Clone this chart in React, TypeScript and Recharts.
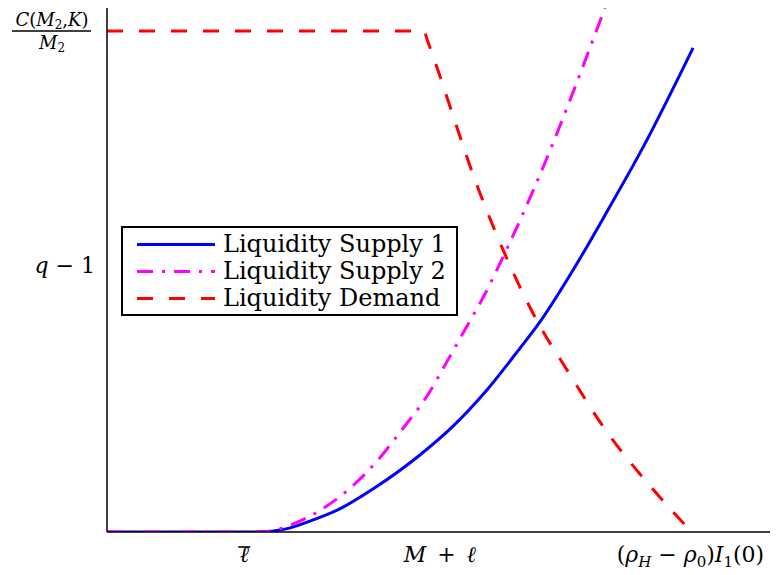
import React from "react";
import { LineChart, Line, XAxis, YAxis } from "recharts";

// liquidity supply 1 (solid blue)
const supply1X = [0, 2.16, 2.4, 2.7, 3.02, 3.51, 4.01, 4.72, 5.22, 5.73, 6.23, 6.53, 7.03, 7.54, 8.08, 8.84];
const supply1Y = [0, 0, 0.001, 0.006, 0.019, 0.044, 0.082, 0.147, 0.202, 0.271, 0.351, 0.401, 0.5, 0.611, 0.733, 0.924];

// liquidity supply 2 (dash-dot magenta)
const supply2X = [0, 2.34, 2.76, 3.17, 3.67, 4.07, 4.46, 4.83, 5.14, 5.43, 5.67, 6.03, 6.49, 7.51];
const supply2Y = [0, 0, 0.013, 0.038, 0.084, 0.135, 0.197, 0.26, 0.328, 0.393, 0.447, 0.54, 0.67, 1.0];

// liquidity demand (dashed red)
const demandX = [0, 4.78, 4.83, 5.63, 6.53, 6.91, 7.54, 8.19, 8.82];
const demandY = [0.956, 0.956, 0.939, 0.645, 0.393, 0.315, 0.191, 0.088, 0];

const xTicks = [2.07, 5.02, 8.8];
const yTicks = [0.5, 0.956];

const seriesNames = ["Liquidity Supply 1", "Liquidity Supply 2", "Liquidity Demand"];

const toPoints = (xs: number[], ys: number[]) => xs.map((x, i) => ({ x, y: ys[i] }));

const supply1 = toPoints(supply1X, supply1Y);
const supply2 = toPoints(supply2X, supply2Y);
const demand = toPoints(demandX, demandY);

const FONT = "DejaVu Serif";
const DASH_DOT = "16 9 3 9";
const DASHED = "16 16";

const SERIES = [
  { name: seriesNames[0], data: supply1, color: "#0000ff", dash: undefined },
  { name: seriesNames[1], data: supply2, color: "#ff00ff", dash: DASH_DOT },
  { name: seriesNames[2], data: demand, color: "#ff0000", dash: DASHED },
];

function XTick(props: any) {
  const { x, payload } = props;
  const base = 562;
  const i = xTicks.indexOf(payload.value);
  if (i === 0) {
    return (
      <g>
        <line x1={x - 6} x2={x + 6} y1={547} y2={547} stroke="#000" strokeWidth={1.6} />
        <text x={x} y={base} textAnchor="middle" fontFamily={FONT} fontSize={22} fontStyle="italic">
          ℓ
        </text>
      </g>
    );
  }
  if (i === 1) {
    return (
      <text x={x} y={base} textAnchor="middle" fontFamily={FONT} fontSize={22}>
        <tspan fontStyle="italic">M</tspan>
        <tspan>{"\u2002+\u2002"}</tspan>
        <tspan fontStyle="italic">ℓ</tspan>
      </text>
    );
  }
  return (
    <text x={x} y={base} textAnchor="middle" fontFamily={FONT} fontSize={22}>
      <tspan>(</tspan>
      <tspan fontStyle="italic">ρ</tspan>
      <tspan fontStyle="italic" fontSize={15} dy={5}>H</tspan>
      <tspan dy={-5}>{" − "}</tspan>
      <tspan fontStyle="italic">ρ</tspan>
      <tspan fontSize={15} dy={5}>0</tspan>
      <tspan dy={-5}>)</tspan>
      <tspan fontStyle="italic">I</tspan>
      <tspan fontSize={15} dy={5}>1</tspan>
      <tspan dy={-5}>(0)</tspan>
    </text>
  );
}

function YTick(props: any) {
  const { y, payload } = props;
  if (payload.value === yTicks[0]) {
    return (
      <text x={95} y={y + 3} textAnchor="end" fontFamily={FONT} fontSize={22}>
        <tspan fontStyle="italic">q</tspan>
        <tspan>{" − 1"}</tspan>
      </text>
    );
  }
  return (
    <g>
      <text x={52} y={y - 5} textAnchor="middle" fontFamily={FONT} fontSize={18}>
        <tspan fontStyle="italic">C</tspan>
        <tspan>(</tspan>
        <tspan fontStyle="italic">M</tspan>
        <tspan fontSize={12} dy={3}>2</tspan>
        <tspan dy={-3}>{","}</tspan>
        <tspan fontStyle="italic">K</tspan>
        <tspan>)</tspan>
      </text>
      <line x1={12} x2={91} y1={y} y2={y} stroke="#000" strokeWidth={1.4} />
      <text x={52} y={y + 18} textAnchor="middle" fontFamily={FONT} fontSize={18}>
        <tspan fontStyle="italic">M</tspan>
        <tspan fontSize={12} dy={3}>2</tspan>
      </text>
    </g>
  );
}

function LegendBox() {
  return (
    <div
      style={{
        position: "absolute",
        left: 121,
        top: 226,
        boxSizing: "border-box",
        width: 337,
        height: 90,
        border: "2px solid #000",
        background: "#fff",
        paddingTop: 3,
        fontFamily: FONT,
        fontSize: 24,
      }}
    >
      {SERIES.map((s) => (
        <div key={s.name} style={{ display: "flex", alignItems: "center", height: 27 }}>
          <svg width={100} height={27} style={{ flex: "none" }}>
            <line
              x1={14}
              x2={92}
              y1={13.5}
              y2={13.5}
              stroke={s.color}
              strokeWidth={3}
              strokeDasharray={s.dash}
            />
          </svg>
          <span style={{ lineHeight: "27px", whiteSpace: "nowrap" }}>{s.name}</span>
        </div>
      ))}
    </div>
  );
}

export default function App() {
  return (
    <div style={{ position: "fixed", left: 0, top: 0, width: 781, height: 575, background: "#fff" }}>
      <LineChart width={781} height={575} margin={{ top: 8, right: 11, bottom: 0, left: 0 }}>
        <XAxis
          type="number"
          dataKey="x"
          domain={[0, 10]}
          ticks={xTicks}
          tick={<XTick />}
          tickLine={false}
          tickSize={0}
          height={43}
          axisLine={{ stroke: "#000", strokeWidth: 1.5 }}
          allowDataOverflow
        />
        <YAxis
          type="number"
          dataKey="y"
          domain={[0, 1]}
          ticks={yTicks}
          tick={<YTick />}
          tickLine={false}
          tickSize={0}
          width={107}
          axisLine={{ stroke: "#000", strokeWidth: 1.5 }}
          allowDataOverflow
        />
        {SERIES.map((s) => (
          <Line
            key={s.name}
            data={s.data}
            dataKey="y"
            name={s.name}
            type="monotone"
            stroke={s.color}
            strokeWidth={3}
            strokeDasharray={s.dash}
            dot={false}
            activeDot={false}
            isAnimationActive={false}
          />
        ))}
      </LineChart>
      <LegendBox />
    </div>
  );
}
